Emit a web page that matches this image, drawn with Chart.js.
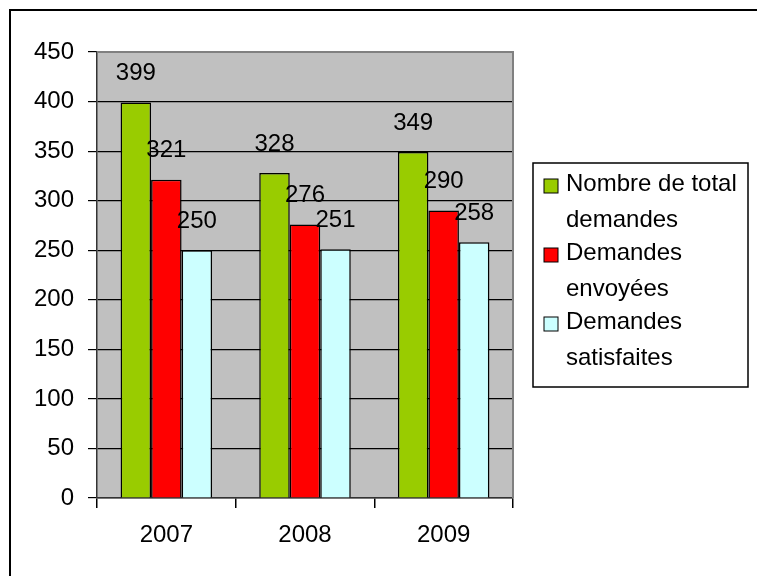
<!DOCTYPE html>
<html>
<head>
<meta charset="utf-8">
<script src="https://cdn.jsdelivr.net/npm/chart.js@4.4.1/dist/chart.umd.min.js"></script>
<style>
  html, body { margin: 0; padding: 0; background: #fff; }
  #wrap { width: 757px; height: 576px; position: relative; }
</style>
</head>
<body>
<div id="wrap"><canvas id="barChart" width="757" height="576"></canvas></div>
<script>
// data
var years = ['2007', '2008', '2009'];
var totalDemandes = [399, 328, 349];
var envoyees = [321, 276, 290];
var satisfaites = [250, 251, 258];
var seriesNames = [['Nombre de total', 'demandes'], ['Demandes', 'envoyées'], ['Demandes', 'satisfaites']];
var yTicks = [0, 50, 100, 150, 200, 250, 300, 350, 400, 450];

var FONT = 'Liberation Sans, Arial, sans-serif';
var FSIZE = 24;

// grey plot background + frame + outer border
var backdrop = {
  id: 'backdrop',
  beforeDraw: (chart) => {
    let ctx = chart.ctx, a = chart.chartArea;
    ctx.save();
    ctx.fillStyle = '#fff';
    ctx.fillRect(0, 0, chart.width, chart.height);
    ctx.fillStyle = '#c0c0c0';
    ctx.fillRect(a.left, a.top, a.right - a.left, a.bottom - a.top);
    ctx.restore();
  },
  afterDraw: (chart) => {
    let ctx = chart.ctx, a = chart.chartArea;
    ctx.save();
    ctx.strokeStyle = '#808080';
    ctx.lineWidth = 2;
    ctx.beginPath();
    ctx.moveTo(a.left, a.top);
    ctx.lineTo(a.right, a.top);
    ctx.lineTo(a.right, a.bottom);
    ctx.stroke();
    ctx.strokeStyle = '#000';
    ctx.lineWidth = 2;
    ctx.strokeRect(10, 10, 800, 700);
    ctx.restore();
  }
};

// value labels above the bars
var valueLabels = {
  id: 'valueLabels',
  afterDatasetsDraw: (chart) => {
    let ctx = chart.ctx;
    ctx.save();
    ctx.font = FSIZE + 'px ' + FONT;
    ctx.fillStyle = '#000';
    ctx.textAlign = 'center';
    ctx.textBaseline = 'middle';
    chart.data.datasets.forEach((ds, i) => {
      chart.getDatasetMeta(i).data.forEach((bar, j) => {
        ctx.fillText(ds.data[j], bar.x, bar.y - 29);
      });
    });
    ctx.restore();
  }
};

// boxed legend with two-line labels
var boxLegend = {
  id: 'boxLegend',
  afterDraw: (chart) => {
    let ctx = chart.ctx;
    ctx.save();
    ctx.fillStyle = '#fff';
    ctx.fillRect(533, 163, 215, 224);
    ctx.strokeStyle = '#000';
    ctx.lineWidth = 1.5;
    ctx.strokeRect(533, 163, 215, 224);
    ctx.font = FSIZE + 'px ' + FONT;
    ctx.textAlign = 'left';
    ctx.textBaseline = 'middle';
    chart.data.datasets.forEach((ds, i) => {
      let y = 184 + i * 69;
      ctx.fillStyle = ds.backgroundColor;
      ctx.fillRect(544, y - 5, 14, 14);
      ctx.strokeStyle = '#000';
      ctx.lineWidth = 1;
      ctx.strokeRect(544, y - 5, 14, 14);
      ctx.fillStyle = '#000';
      ds.legendLines.forEach((t, k) => {
        ctx.fillText(t, 566, y + k * 36);
      });
    });
    ctx.restore();
  }
};

var ctxB = document.getElementById('barChart').getContext('2d');
var myBarChart = new Chart(ctxB, {
  type: 'bar',
  data: {
    labels: years,
    datasets: [{
      label: seriesNames[0].join(' '),
      legendLines: seriesNames[0],
      data: totalDemandes,
      backgroundColor: '#99cc00',
      borderColor: '#000',
      borderWidth: 1.5
    },
    {
      label: seriesNames[1].join(' '),
      legendLines: seriesNames[1],
      data: envoyees,
      backgroundColor: '#ff0000',
      borderColor: '#000',
      borderWidth: 1.5
    },
    {
      label: seriesNames[2].join(' '),
      legendLines: seriesNames[2],
      data: satisfaites,
      backgroundColor: '#ccffff',
      borderColor: '#000',
      borderWidth: 1.5
    }]
  },
  options: {
    responsive: false,
    animation: false,
    layout: { padding: { left: 0, top: 52, right: 244, bottom: 0 } },
    datasets: { bar: { barPercentage: 1, categoryPercentage: 0.66 } },
    plugins: {
      legend: { display: false },
      tooltip: { enabled: false }
    },
    scales: {
      x: {
        afterFit: (s) => { s.height = 78; },
        grid: {
          offset: true,
          drawOnChartArea: false,
          color: '#000',
          tickLength: 10,
          lineWidth: 1.5
        },
        border: { color: '#333', width: 1.5 },
        ticks: { color: '#000', font: { family: FONT, size: FSIZE }, padding: 13 }
      },
      y: {
        min: 0,
        max: 450,
        afterFit: (s) => { s.width = 97; },
        afterBuildTicks: (s) => { s.ticks = yTicks.map(v => ({ value: v })); },
        grid: {
          color: '#000',
          lineWidth: 1.2,
          tickLength: 9
        },
        border: { color: '#333', width: 1.5 },
        ticks: { color: '#000', font: { family: FONT, size: FSIZE }, padding: 14 }
      }
    }
  },
  plugins: [backdrop, valueLabels, boxLegend]
});
</script>
</body>
</html>
